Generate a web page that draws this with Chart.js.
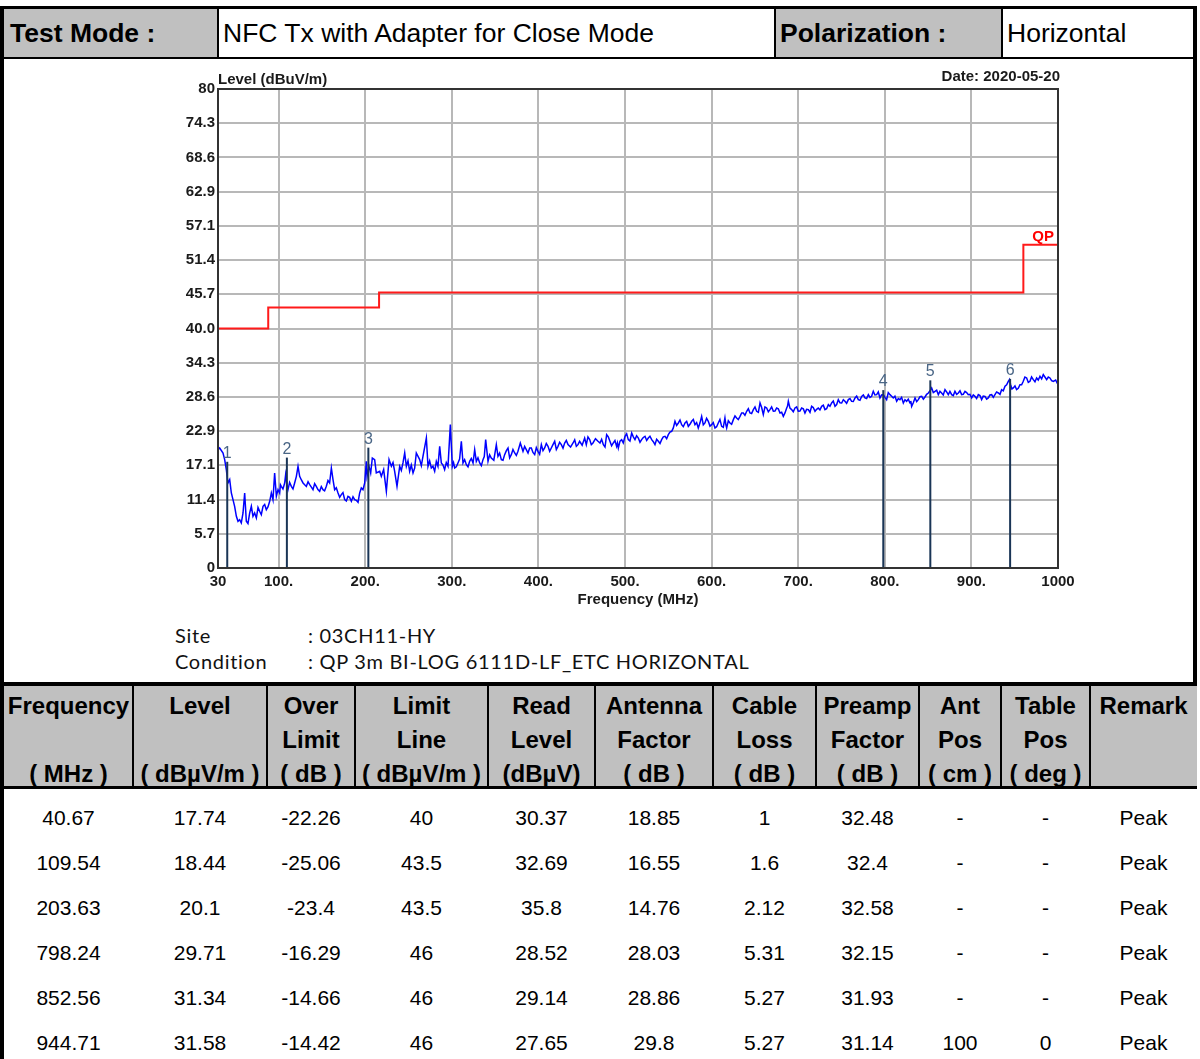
<!DOCTYPE html>
<html>
<head>
<meta charset="utf-8">
<script src="https://cdn.jsdelivr.net/npm/chart.js@4.4.1/dist/chart.umd.min.js"></script>
<style>
  html,body{margin:0;padding:0;background:#fff;}
  #page{position:relative;width:1200px;height:1059px;overflow:hidden;background:#fff;font-family:"Liberation Sans",Arial,sans-serif;color:#000;}
  .blk{position:absolute;background:#000;}
  .gray{position:absolute;background:#c0c0c0;}
  .txt{position:absolute;white-space:nowrap;}
  .hcell{position:absolute;text-align:center;font-weight:bold;font-size:24px;line-height:34px;white-space:nowrap;}
  .dcell{position:absolute;text-align:center;font-size:21px;line-height:45px;}
  .note{position:absolute;font-family:"Lato","DejaVu Sans",sans-serif;font-size:20px;letter-spacing:0.7px;color:#111;white-space:nowrap;}
  #chartBox{position:absolute;left:150px;top:60px;width:950px;height:555px;}
</style>
</head>
<body>
<div id="page">
  <div id="chartBox"><canvas id="c" width="950" height="555"></canvas></div>
</div>
<script>
// ---------------- DATA ----------------
const headerTexts = ["Test Mode :", "NFC Tx with Adapter for Close Mode", "Polarization :", "Horizontal"];
const siteText = ": 03CH11-HY";
const conditionText = ": QP 3m BI-LOG 6111D-LF_ETC HORIZONTAL";

const yTickLabels = ["0","5.7","11.4","17.1","22.9","28.6","34.3","40.0","45.7","51.4","57.1","62.9","68.6","74.3","80"];
const xTickValues = [30,100,200,300,400,500,600,700,800,900,1000];
const xTickLabels = ["30","100.","200.","300.","400.","500.","600.","700.","800.","900.","1000"];

// QP limit line (level holds from each frequency to the next)
const limitFreq  = [30, 88, 216, 960, 1000];
const limitLevel = [40, 43.5, 46, 54, 54];

// Peak markers
const markerNum   = ["1","2","3","4","5","6"];
const markerFreq  = [40.67, 109.54, 203.63, 798.24, 852.56, 944.71];
const markerLevel = [17.74, 18.44, 20.1, 29.71, 31.34, 31.58];

const traceData = [
[30.0,19.77],[31.9,20.04],[35.8,19.21],[37.7,18.10],[39.6,16.43],[41.5,14.20],[43.5,14.76],[45.4,12.53],[47.3,11.41],[49.2,10.30],
[51.2,8.63],[53.1,7.80],[55.0,8.07],[56.9,7.52],[58.9,9.19],[60.8,12.53],[62.7,7.80],[64.6,7.41],[66.6,9.19],[68.5,10.30],
[70.4,8.63],[72.3,9.19],[74.3,8.35],[76.2,10.1],[78.1,9.47],[80.0,8.9],[82.0,10.30],[83.9,10.6],[85.8,9.74],[87.7,10.2],
[89.7,11.14],[91.6,12.53],[93.5,11.41],[95.4,15.87],[97.4,11.97],[99.3,13.08],[101.2,12.53],[102.1,13.9],[103.1,13.64],[105.0,13.2],
[107.0,14.20],[108.1,15.59],[109.5,14.0],[110.8,13.08],[112.7,14.3],[114.7,13.64],[116.6,13.2],[118.5,14.20],[120.5,15.31],[122.4,16.98],
[124.3,15.31],[126.3,14.7],[128.2,14.20],[130.1,13.9],[132.0,13.64],[134.0,14.4],[135.9,13.92],[137.8,13.5],[139.7,13.08],[141.6,14.1],
[143.5,13.64],[145.4,13.1],[147.4,12.81],[149.3,13.6],[151.2,13.08],[153.1,12.9],[155.1,13.64],[157.0,14.6],[158.9,14.20],[160.9,16.70],
[162.8,14.76],[164.7,13.08],[166.6,13.4],[168.6,12.53],[170.5,11.8],[172.4,12.25],[174.3,12.6],[176.3,11.41],[178.2,11.2],[180.1,11.97],
[182.0,11.8],[184.0,11.14],[185.9,11.9],[187.8,11.41],[189.7,11.3],[191.7,10.97],[193.6,12.53],[195.5,13.36],[197.4,13.08],[199.4,14.20],
[201.3,17.82],[202.1,15.31],[204.4,16.98],[206.3,15.87],[208.2,18.37],[210.9,18.10],[212.8,15.87],[216.7,16.15],[218.6,15.31],[221.3,16.43],
[224.4,12.81],[227.5,18.10],[230.2,16.98],[232.1,17.6],[234.0,16.15],[236.7,13.64],[239.8,16.98],[241.7,16.3],[243.6,17.54],[245.6,19.21],
[247.5,16.98],[249.4,17.9],[251.3,16.15],[253.2,17.2],[255.2,15.87],[257.1,16.7],[259.0,19.21],[262.9,18.10],[264.8,17.1],[266.7,18.65],
[270.6,21.71],[272.5,16.98],[274.4,17.9],[276.3,16.70],[278.2,17.0],[280.2,16.15],[282.1,17.8],[284.0,16.98],[286.0,20.32],[287.9,17.54],
[289.8,17.2],[291.7,16.43],[293.6,17.6],[295.6,16.98],[298.3,23.94],[300.6,16.98],[302.0,17.6],[303.3,16.70],[305.2,16.9],[307.1,17.54],
[309.0,18.2],[311.0,21.16],[312.9,17.54],[314.8,18.1],[316.8,17.26],[318.7,16.9],[320.6,17.82],[322.5,18.3],[324.5,17.54],[326.4,19.77],
[328.3,17.82],[330.2,18.4],[332.2,17.54],[334.1,17.1],[336.0,18.10],[337.5,18.6],[339.1,21.44],[341.8,17.82],[343.7,18.9],[345.6,18.37],
[348.5,18.0],[351.4,20.60],[353.3,18.65],[355.2,19.2],[357.2,18.10],[359.1,18.0],[361.0,18.93],[363.0,19.6],[364.9,20.04],[366.8,18.4],
[368.7,18.93],[370.6,19.8],[372.6,19.21],[374.5,18.8],[376.4,19.49],[379.1,20.88],[382.2,19.49],[384.1,20.3],[386.0,19.77],[388.0,19.2],
[389.9,20.04],[391.8,20.04],[393.7,19.3],[395.7,18.93],[397.6,20.1],[399.5,19.49],[401.4,19.0],[403.4,20.60],[405.3,19.6],[407.2,20.04],
[409.1,20.8],[411.1,20.32],[413.0,19.5],[414.9,20.04],[416.8,20.6],[418.8,21.16],[420.7,19.8],[422.6,20.32],[424.5,21.0],[426.5,20.60],
[428.4,20.0],[430.3,20.88],[432.2,21.3],[434.2,20.60],[437.1,20.2],[440.0,20.88],[441.9,21.4],[443.8,20.32],[445.7,20.6],[447.6,21.16],
[450.5,20.5],[453.4,21.71],[455.3,20.60],[457.2,21.9],[459.2,21.44],[461.1,20.6],[463.0,20.88],[465.9,21.6],[468.8,21.16],
[471.1,20.88],[473.0,21.5],[475.0,20.60],[476.9,20.2],[478.8,22.27],[480.7,21.9],[482.6,21.16],[484.5,20.4],[486.5,20.88],[488.4,21.3],
[490.3,20.32],[491.3,20.9],[492.3,20.04],[494.2,21.2],[496.1,21.44],[498.0,20.9],[500.0,21.99],[501.9,22.4],[503.8,21.44],[505.7,21.2],
[507.7,22.55],[509.6,21.9],[511.5,21.44],[513.4,22.1],[515.4,21.71],[517.3,21.0],[519.2,21.44],[521.1,21.8],[523.1,21.99],[525.0,21.3],
[526.9,21.71],[528.8,22.0],[530.8,21.44],[532.7,21.1],[534.6,20.60],[536.5,21.5],[538.5,21.16],[540.4,20.8],[542.3,21.44],[544.2,21.9],
[546.2,21.99],[548.1,21.6],[550.0,22.27],[551.9,22.7],[553.9,22.83],[555.8,23.4],[557.7,24.50],[559.6,23.8],[561.6,24.22],[563.5,24.7],
[565.4,23.94],[567.3,23.6],[569.3,24.22],[571.2,24.5],[573.1,23.66],[575.0,24.0],[577.0,24.50],[578.9,24.8],[580.8,23.94],[582.7,24.3],
[584.6,23.39],[586.5,24.2],[588.5,25.33],[590.4,23.9],[592.3,24.22],[594.2,25.0],[596.2,24.50],[598.1,23.7],[600.0,23.94],[601.9,24.3],
[603.9,23.39],[605.8,23.6],[607.7,24.22],[609.6,24.8],[611.6,23.66],[613.5,23.5],[615.4,25.06],[616.4,24.0],[617.4,23.39],[619.3,24.6],
[621.2,24.22],[623.1,24.0],[625.1,24.78],[627.0,25.4],[628.9,25.06],[630.8,24.8],[632.8,25.33],[634.7,25.9],[636.6,25.89],[638.5,25.5],
[640.5,26.17],[642.4,26.6],[644.3,25.89],[646.2,25.8],[648.2,26.45],[650.1,26.9],[652.0,26.17],[654.0,26.0],[655.9,27.56],[657.8,26.8],
[659.7,25.61],[661.6,26.9],[663.6,26.73],[665.5,26.1],[667.4,26.45],[669.3,26.9],[671.3,26.17],[673.2,26.2],[675.1,26.73],[677.0,26.6],
[679.0,25.89],[680.9,26.0],[682.8,25.33],[684.7,25.9],[686.7,26.73],[687.6,27.0],[688.6,27.84],[690.5,26.7],[692.4,26.45],[694.3,26.1],
[696.3,26.73],[698.2,26.9],[700.1,26.17],[702.0,26.2],[704.0,26.73],[705.9,26.6],[707.8,25.89],[709.7,26.5],[711.7,26.45],[713.6,26.0],
[715.5,27.00],[717.4,26.8],[719.4,26.17],[721.3,26.5],[723.2,26.73],[725.1,26.4],[727.1,27.00],[729.0,27.2],[730.9,26.45],[732.8,26.6],
[734.8,27.28],[736.7,27.0],[738.6,27.56],[740.5,27.9],[742.5,27.00],[744.4,27.3],[746.3,28.12],[748.2,27.6],[750.2,27.56],[752.1,28.1],
[754.0,27.84],[755.9,27.5],[757.9,28.12],[759.8,28.3],[761.7,27.84],[763.6,27.8],[765.6,28.40],[767.5,28.7],[769.4,28.12],[771.3,28.0],
[773.3,28.67],[775.2,28.9],[777.1,28.40],[779.0,28.3],[781.0,28.95],[782.9,28.5],[784.8,28.67],[785.7,29.1],[786.7,29.51],[788.6,28.9],
[790.6,28.95],[792.5,29.4],[794.4,28.40],[796.3,28.9],[798.3,28.95],[800.2,28.5],[802.1,28.12],[804.0,29.3],[806.0,28.95],[807.9,28.7],
[809.8,28.40],[811.7,28.7],[813.7,27.84],[815.6,28.3],[817.5,28.12],[819.4,28.5],[821.4,27.56],[823.3,28.1],[825.2,27.84],[827.1,28.2],
[829.1,27.56],[830.0,27.9],[831.0,27.00],[832.9,27.6],[834.9,28.40],[836.8,27.8],[838.7,28.12],[840.6,28.6],[842.6,28.67],[844.5,28.2],
[846.4,28.56],[848.3,29.0],[850.3,29.23],[852.2,29.6],[854.1,30.07],[856.0,29.3],[858.0,29.51],[859.9,29.7],[861.8,28.95],[863.7,29.5],
[865.6,29.23],[867.5,28.9],[869.5,29.79],[871.4,29.4],[873.3,28.95],[875.2,29.5],[877.2,28.95],[879.1,28.8],[881.0,29.51],[883.0,29.0],
[884.9,29.23],[886.8,29.6],[888.7,28.95],[890.6,29.0],[892.6,29.51],[894.5,29.3],[896.4,28.95],[898.3,29.0],[900.3,28.40],[902.2,28.9],
[904.1,28.67],[906.0,28.3],[908.0,28.95],[909.9,28.8],[911.8,28.12],[913.7,28.7],[915.7,28.67],[917.6,28.2],[919.5,28.40],[921.4,28.9],
[923.4,28.95],[925.3,28.5],[927.2,28.95],[929.1,29.4],[931.1,29.23],[933.0,29.0],[934.9,29.79],[936.8,29.6],[938.8,30.35],[940.7,30.6],
[942.6,31.18],[944.0,31.5],[945.3,30.62],[946.8,29.9],[948.4,30.07],[950.3,30.4],[952.2,29.79],[954.1,30.0],[956.1,30.62],[958.0,30.6],
[959.9,31.18],[961.8,31.9],[963.8,31.74],[965.7,31.0],[967.6,31.18],[969.5,31.9],[971.5,31.46],[973.4,31.1],[975.3,31.74],[977.2,31.4],
[979.2,32.02],[981.1,31.6],[983.0,32.29],[984.9,31.9],[986.9,31.46],[988.8,31.9],[990.7,31.74],[992.6,31.3],[994.6,31.18],[997.3,31.4],
[1000,30.62]
];

// Result table
const tableHead = [
  ["Frequency","","( MHz )"],["Level","","( dBµV/m )"],["Over","Limit","( dB )"],["Limit","Line","( dBµV/m )"],
  ["Read","Level","(dBµV)"],["Antenna","Factor","( dB )"],["Cable","Loss","( dB )"],["Preamp","Factor","( dB )"],
  ["Ant","Pos","( cm )"],["Table","Pos","( deg )"],["Remark","",""]
];
const colFrequency = ["40.67","109.54","203.63","798.24","852.56","944.71"];
const colLevel     = ["17.74","18.44","20.1","29.71","31.34","31.58"];
const colOver      = ["-22.26","-25.06","-23.4","-16.29","-14.66","-14.42"];
const colLimit     = ["40","43.5","43.5","46","46","46"];
const colRead      = ["30.37","32.69","35.8","28.52","29.14","27.65"];
const colAntenna   = ["18.85","16.55","14.76","28.03","28.86","29.8"];
const colCable     = ["1","1.6","2.12","5.31","5.27","5.27"];
const colPreamp    = ["32.48","32.4","32.58","32.15","31.93","31.14"];
const colAntPos    = ["-","-","-","-","-","100"];
const colTablePos  = ["-","-","-","-","-","0"];
const colRemark    = ["Peak","Peak","Peak","Peak","Peak","Peak"];

// ---------------- PAGE LAYOUT ----------------
const page = document.getElementById('page');
function box(cls, l, t, w, h, html, style) {
  const d = document.createElement('div');
  d.className = cls;
  d.style.left = l + 'px'; d.style.top = t + 'px';
  if (w != null) d.style.width = w + 'px';
  if (h != null) d.style.height = h + 'px';
  if (html != null) d.innerHTML = html;
  if (style) Object.assign(d.style, style);
  page.appendChild(d);
  return d;
}
// header row
box('gray', 4, 9, 213, 48);
box('gray', 775, 9, 226, 48);
const hs = {fontSize:'26.5px', lineHeight:'48px'};
box('txt', 10, 9, null, 48, headerTexts[0], Object.assign({fontWeight:'bold'}, hs));
box('txt', 223, 9, null, 48, headerTexts[1], hs);
box('txt', 780, 9, null, 48, headerTexts[2], Object.assign({fontWeight:'bold'}, hs));
box('txt', 1007, 9, null, 48, headerTexts[3], hs);
box('blk', 0, 6, 1197, 3);
box('blk', 0, 57, 1197, 2);
box('blk', 217, 9, 2, 48);
box('blk', 774, 9, 2, 48);
box('blk', 1001, 9, 2, 48);
// frame
box('blk', 0, 6, 4, 1053);
box('blk', 1193, 6, 4, 680);
// notes
box('note', 175, 623, null, null, 'Site');
box('note', 175, 649, null, null, 'Condition');
box('note', 308, 623, null, null, siteText);
box('note', 308, 649, null, null, conditionText);
// table
const edges = [4,133,267,355,488,595,713,816,919,1001,1090,1197];
box('blk', 0, 682, 1197, 4);
box('gray', 4, 686, 1193, 100);
box('blk', 0, 786, 1197, 3);
const cols = [colFrequency,colLevel,colOver,colLimit,colRead,colAntenna,colCable,colPreamp,colAntPos,colTablePos,colRemark];
for (let c = 0; c < tableHead.length; c++) {
  const l = edges[c], w = edges[c+1] - edges[c];
  if (c > 0) box('blk', l - 1, 686, 2, 100);
  for (let r = 0; r < 3; r++) {
    box('hcell', l, 689 + r*34, w, 34, tableHead[c][r]);
  }
  for (let r = 0; r < cols[c].length; r++) {
    box('dcell', l, 795 + r*45, w, 45, cols[c][r]);
  }
}

// ---------------- CHART ----------------
const FONT = '"Liberation Sans", Arial, sans-serif';
const markerDatasets = markerFreq.map((f, i) => ({
  data: [{x: f, y: 0}, {x: f, y: markerLevel[i]}],
  borderColor: '#1a3556', borderWidth: 2, pointRadius: 0, fill: false
}));

const decor = {
  id: 'decor',
  afterDraw(chart) {
    const {ctx, chartArea: a, scales: {x, y}} = chart;
    ctx.save();
    ctx.strokeStyle = '#333'; ctx.lineWidth = 2;
    ctx.strokeRect(a.left, a.top, a.right - a.left, a.bottom - a.top);
    ctx.fillStyle = '#1a1a1a';
    ctx.font = 'bold 15px ' + FONT;
    ctx.textBaseline = 'alphabetic';
    ctx.textAlign = 'left';
    ctx.fillText('Level (dBuV/m)', a.left, a.top - 5);
    ctx.textAlign = 'right';
    ctx.fillText('Date: 2020-05-20', a.right + 2, a.top - 8);
    ctx.textAlign = 'center';
    ctx.fillText('Frequency (MHz)', (a.left + a.right) / 2, a.bottom + 36);
    // QP label
    ctx.fillStyle = '#ff0000';
    ctx.textAlign = 'right';
    ctx.fillText('QP', x.getPixelForValue(limitFreq[limitFreq.length-1]) - 4, y.getPixelForValue(limitLevel[limitLevel.length-1]) - 4);
    // marker numbers
    ctx.fillStyle = '#4a6686';
    ctx.font = '16px ' + FONT;
    ctx.textAlign = 'center';
    markerFreq.forEach((f, i) => {
      ctx.fillText(markerNum[i], x.getPixelForValue(f), y.getPixelForValue(markerLevel[i]) - 4);
    });
    ctx.restore();
  }
};

new Chart(document.getElementById('c'), {
  type: 'line',
  data: {
    datasets: [
      ...markerDatasets,
      { data: traceData.map(p => ({x: p[0], y: p[1]})), borderColor: '#0000ff', borderWidth: 1.5, pointRadius: 0, fill: false },
      { data: limitFreq.map((f, i) => ({x: f, y: limitLevel[i]})), borderColor: '#ff1a1a', borderWidth: 2, pointRadius: 0, stepped: 'before', fill: false }
    ]
  },
  options: {
    responsive: false,
    animation: false,
    devicePixelRatio: 1,
    layout: { padding: { left: 0, right: 42, top: 29, bottom: 0 } },
    plugins: { legend: { display: false }, tooltip: { enabled: false } },
    elements: { line: { tension: 0 } },
    scales: {
      x: {
        type: 'linear', min: 30, max: 1000,
        afterFit(s) { s.height = 47; },
        afterBuildTicks(s) { s.ticks = xTickValues.map(v => ({value: v})); },
        ticks: { callback: (v, i) => xTickLabels[i], autoSkip: false, maxRotation: 0, padding: 5,
                 color: '#1a1a1a', font: { family: FONT, size: 15, weight: 'bold' } },
        grid: { color: '#b8b8b8', lineWidth: 2, drawTicks: false },
        border: { display: false }
      },
      y: {
        type: 'linear', min: 0, max: 80,
        afterFit(s) { s.width = 68; },
        afterBuildTicks(s) { s.ticks = yTickLabels.map((t, i) => ({value: i * 80 / (yTickLabels.length - 1)})); },
        ticks: { callback: (v, i) => yTickLabels[i], autoSkip: false, padding: 3,
                 color: '#1a1a1a', font: { family: FONT, size: 15, weight: 'bold' } },
        grid: { color: '#b8b8b8', lineWidth: 2, drawTicks: false },
        border: { display: false }
      }
    }
  },
  plugins: [decor]
});
</script>
</body>
</html>
